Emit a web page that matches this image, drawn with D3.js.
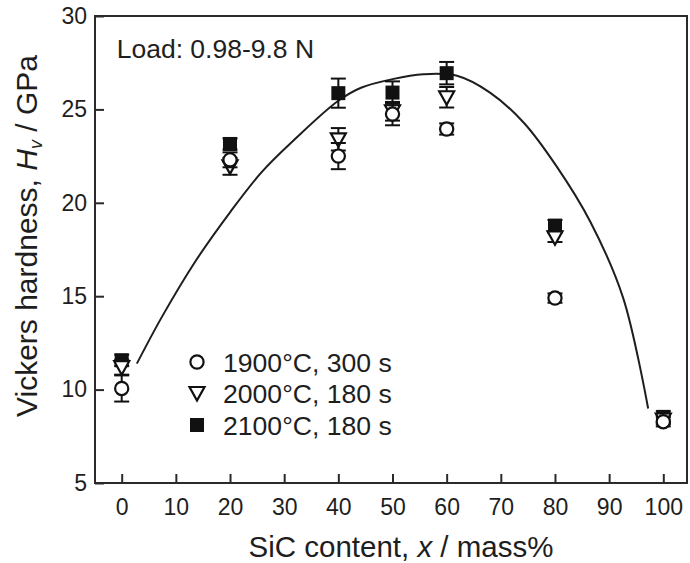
<!DOCTYPE html>
<html>
<head>
<meta charset="utf-8">
<script src="https://cdn.jsdelivr.net/npm/d3@7"></script>
<style>
  body { margin: 0; background: #fff; }
  svg text { font-family: "Liberation Sans", Arial, sans-serif; fill: #1e1e1e; }
</style>
</head>
<body>
<div id="chart"></div>
<script>
// data
const sicContent = [0, 20, 40, 50, 60, 80, 100];
const hv1900 = [10.06, 22.3, 22.5, 24.75, 23.95, 14.9, 8.28];
const err1900 = [0.7, 0.4, 0.7, 0.6, 0.3, 0.25, 0.25];
const hv2000 = [11.2, 21.95, 23.4, 24.9, 25.65, 18.15, 8.4];
const err2000 = [0.4, 0.45, 0.6, 0.5, 0.55, 0.25, 0.25];
const hv2100 = [11.57, 23.15, 25.87, 25.9, 26.94, 18.78, 8.54];
const err2100 = [0.3, 0.3, 0.78, 0.6, 0.6, 0.3, 0.3];

// fitted curve
const fitX = [2.8, 7.4, 13.5, 20, 25.8, 32, 40, 44.3, 50, 55.7, 61.9, 68, 74.2, 80.3, 86.5, 92.6, 97.2];
const fitY = [11.39, 13.88, 16.82, 19.49, 21.63, 23.41, 25.46, 26.17, 26.62, 26.88, 26.8, 25.9, 24.3, 21.95, 19.0, 14.9, 8.99];

const xTicks = [0, 10, 20, 30, 40, 50, 60, 70, 80, 90, 100];
const yTicks = [5, 10, 15, 20, 25, 30];
const legendLabels = ['1900°C, 300 s', '2000°C, 180 s', '2100°C, 180 s'];
const noteText = 'Load: 0.98-9.8 N';

const width = 690, height = 563;
const frame = {left: 95, top: 16, right: 687, bottom: 483};

let svg = d3.select('#chart').append('svg')
            .attr('width', width)
            .attr('height', height);

let xScale = d3.scaleLinear()
               .domain([0, 100])
               .range([121.7, 663.3]);

let yScale = d3.scaleLinear()
               .domain([5, 30])
               .range([frame.bottom, frame.top]);

// frame
svg.append('rect')
    .attr('x', frame.left)
    .attr('y', frame.top)
    .attr('width', frame.right - frame.left)
    .attr('height', frame.bottom - frame.top)
    .attr('fill', 'none')
    .attr('stroke', '#2a2a2a')
    .attr('stroke-width', 2);

// axes, ticks pointing inward
let xAxis = svg.append('g')
    .attr('transform', 'translate(0,' + frame.bottom + ')')
    .call(d3.axisBottom(xScale).tickValues(xTicks).tickSizeInner(-9).tickSizeOuter(0).tickPadding(16));

let yAxis = svg.append('g')
    .attr('transform', 'translate(' + frame.left + ',0)')
    .call(d3.axisLeft(yScale).tickValues(yTicks).tickSizeInner(-9).tickSizeOuter(0).tickPadding(8));

[xAxis, yAxis].forEach((g) => {
  g.select('.domain').remove();
  g.selectAll('line').attr('stroke', '#2a2a2a').attr('stroke-width', 2);
  g.selectAll('text').attr('font-size', 23).attr('fill', '#1e1e1e')
      .style('font-family', '"Liberation Sans", Arial, sans-serif');
});

// axis titles
let xTitle = svg.append('text')
    .attr('x', 401)
    .attr('y', 557)
    .attr('text-anchor', 'middle')
    .attr('font-size', 29.5);
xTitle.append('tspan').text('SiC content, ');
xTitle.append('tspan').attr('font-style', 'italic').text('x');
xTitle.append('tspan').text(' / mass%');

let yTitle = svg.append('text')
    .attr('transform', 'translate(37,236) rotate(-90)')
    .attr('text-anchor', 'middle')
    .attr('font-size', 30);
yTitle.append('tspan').text('Vickers hardness, ');
yTitle.append('tspan').attr('font-style', 'italic').text('H');
yTitle.append('tspan').attr('font-style', 'italic').attr('font-size', 18).attr('dy', 5).text('v');
yTitle.append('tspan').attr('dy', -5).text(' / GPa');

// note
svg.append('text')
    .attr('x', 116.7)
    .attr('y', 58)
    .attr('font-size', 26.5)
    .text(noteText);

// fitted curve
let fitPoints = fitX.map((x, i) => [x, fitY[i]]);
let line = d3.line()
    .x((d) => xScale(d[0]))
    .y((d) => yScale(d[1]))
    .curve(d3.curveCatmullRom.alpha(0.5));

svg.append('path')
    .attr('d', line(fitPoints))
    .attr('fill', 'none')
    .attr('stroke', '#1e1e1e')
    .attr('stroke-width', 2);

// markers
const symSquare = d3.symbol().type(d3.symbolSquare).size(196);
const symCircle = d3.symbol().type(d3.symbolCircle).size(Math.PI * 6.6 * 6.6);

function triangleDown(cx, cy) {
  return 'M' + (cx - 7.5) + ',' + (cy - 6) + 'L' + (cx + 7.5) + ',' + (cy - 6) + 'L' + cx + ',' + (cy + 7.5) + 'Z';
}

function drawErrors(values, errs) {
  let g = svg.append('g').attr('stroke', '#111').attr('stroke-width', 2);
  sicContent.forEach((x, i) => {
    let cx = xScale(x);
    let top = yScale(values[i] + errs[i]);
    let bot = yScale(values[i] - errs[i]);
    g.append('line').attr('x1', cx).attr('x2', cx).attr('y1', top).attr('y2', bot);
    g.append('line').attr('x1', cx - 7.5).attr('x2', cx + 7.5).attr('y1', top).attr('y2', top);
    g.append('line').attr('x1', cx - 7.5).attr('x2', cx + 7.5).attr('y1', bot).attr('y2', bot);
  });
}

function drawMarker(kind, cx, cy) {
  if (kind == 'square') {
    svg.append('path').attr('d', symSquare()).attr('transform', 'translate(' + cx + ',' + cy + ')')
        .attr('fill', '#111');
  } else if (kind == 'triangle') {
    svg.append('path').attr('d', triangleDown(cx, cy))
        .attr('fill', '#fff').attr('stroke', '#111').attr('stroke-width', 2.2);
  } else {
    svg.append('path').attr('d', symCircle()).attr('transform', 'translate(' + cx + ',' + cy + ')')
        .attr('fill', '#fff').attr('stroke', '#111').attr('stroke-width', 2.2);
  }
}

drawErrors(hv2100, err2100);
sicContent.forEach((x, i) => drawMarker('square', xScale(x), yScale(hv2100[i])));
drawErrors(hv2000, err2000);
sicContent.forEach((x, i) => drawMarker('triangle', xScale(x), yScale(hv2000[i])));
drawErrors(hv1900, err1900);
sicContent.forEach((x, i) => drawMarker('circle', xScale(x), yScale(hv1900[i])));

// legend
const legendKinds = ['circle', 'triangle', 'square'];
const legendY = [362, 393, 425];
legendLabels.forEach((label, i) => {
  drawMarker(legendKinds[i], 197, legendY[i]);
  svg.append('text')
      .attr('x', 223)
      .attr('y', legendY[i])
      .attr('dy', '0.36em')
      .attr('font-size', 26.6)
      .text(label);
});
</script>
</body>
</html>
